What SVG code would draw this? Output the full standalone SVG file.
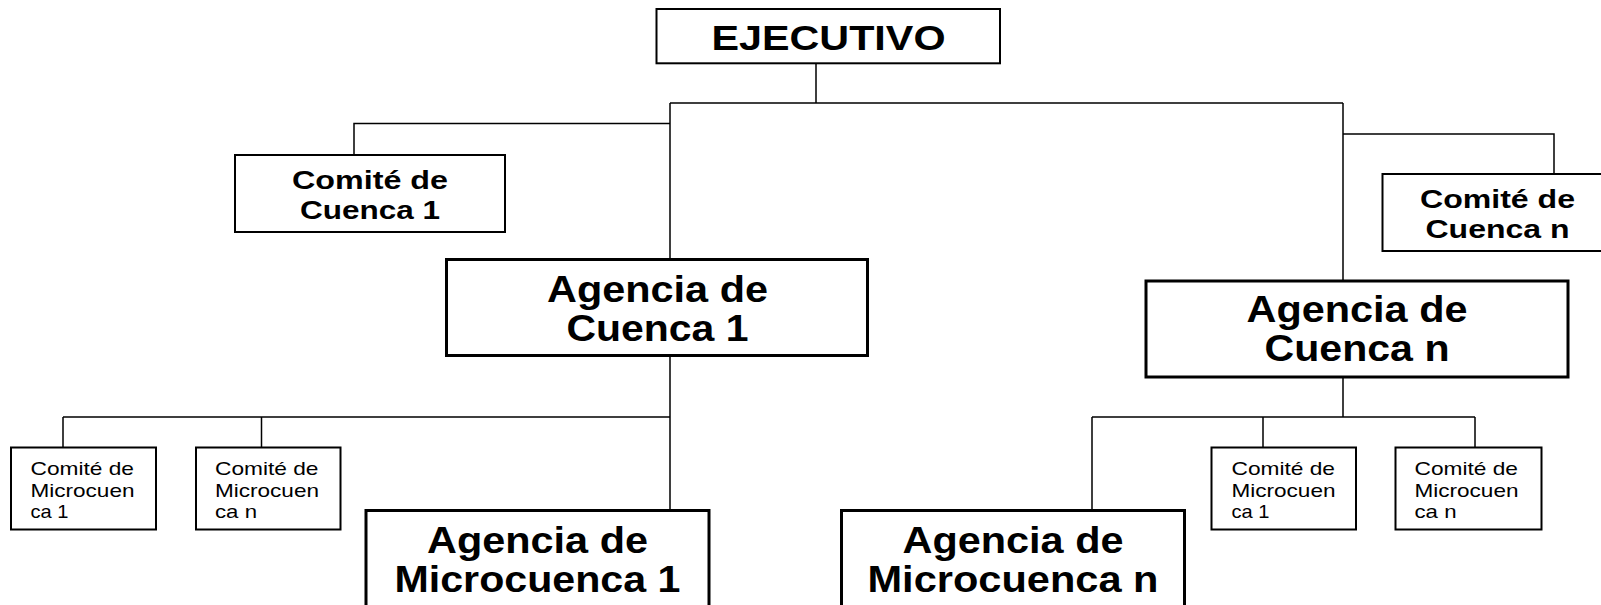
<svg xmlns="http://www.w3.org/2000/svg" width="1601" height="605" viewBox="0 0 1601 605">
<style>
.box{fill:#fff;stroke:#000;stroke-width:2}
.big{fill:#fff;stroke:#000;stroke-width:3}
.ln{fill:none;stroke:#000;stroke-width:1.5}
text{font-family:"Liberation Sans",Arial,sans-serif;fill:#000}
.b{font-weight:bold;text-anchor:middle}
.s{font-size:19px}
</style>
<rect width="1601" height="605" fill="#fff"/>
<g id="connectors">
<path class="ln" d="M816,63V103M670,103H1343M670,103V259M670,123.5H354V155M1343,103V281M1343,134H1554V174"/>
<path class="ln" d="M670,355V510.5M63,417H670M63,417V447M261.5,417V447"/>
<path class="ln" d="M1343,377V417M1092,417H1475M1092,417V510.5M1263,417V447M1475,417V447"/>
</g>
<g id="ejecutivo">
<rect class="box" x="656.5" y="9" width="343.5" height="54.3"/>
<text class="b" x="828.5" y="50" font-size="35" textLength="234" lengthAdjust="spacingAndGlyphs">EJECUTIVO</text>
</g>
<g id="comite-cuenca-1">
<rect class="box" x="235" y="155" width="270" height="77"/>
<text class="b" x="370" y="189" font-size="26" textLength="156" lengthAdjust="spacingAndGlyphs">Comité de</text>
<text class="b" x="370" y="219" font-size="26" textLength="140" lengthAdjust="spacingAndGlyphs">Cuenca 1</text>
</g>
<g id="comite-cuenca-n">
<rect class="box" x="1382.5" y="174" width="240" height="77"/>
<text class="b" x="1497.5" y="207.5" font-size="26" textLength="155" lengthAdjust="spacingAndGlyphs">Comité de</text>
<text class="b" x="1497.5" y="238" font-size="26" textLength="144" lengthAdjust="spacingAndGlyphs">Cuenca n</text>
</g>
<g id="agencia-cuenca-1">
<rect class="big" x="446.5" y="259.5" width="421" height="96"/>
<text class="b" x="657.5" y="302" font-size="37" textLength="221" lengthAdjust="spacingAndGlyphs">Agencia de</text>
<text class="b" x="657.5" y="340.5" font-size="37" textLength="182" lengthAdjust="spacingAndGlyphs">Cuenca 1</text>
</g>
<g id="agencia-cuenca-n">
<rect class="big" x="1146" y="281" width="422" height="96"/>
<text class="b" x="1357" y="322" font-size="37" textLength="221" lengthAdjust="spacingAndGlyphs">Agencia de</text>
<text class="b" x="1357" y="361" font-size="37" textLength="185" lengthAdjust="spacingAndGlyphs">Cuenca n</text>
</g>
<g id="comite-microcuenca-1-a">
<rect class="box" x="11" y="447.5" width="145" height="82"/>
<text class="s" x="30.5" y="475" textLength="103.5" lengthAdjust="spacingAndGlyphs">Comité de</text>
<text class="s" x="30.5" y="496.5" textLength="104" lengthAdjust="spacingAndGlyphs">Microcuen</text>
<text class="s" x="30.5" y="518" textLength="38" lengthAdjust="spacingAndGlyphs">ca 1</text>
</g>
<g id="comite-microcuenca-n-a">
<rect class="box" x="196" y="447.5" width="144.5" height="82"/>
<text class="s" x="215" y="475" textLength="103.5" lengthAdjust="spacingAndGlyphs">Comité de</text>
<text class="s" x="215" y="496.5" textLength="104" lengthAdjust="spacingAndGlyphs">Microcuen</text>
<text class="s" x="215" y="518" textLength="42" lengthAdjust="spacingAndGlyphs">ca n</text>
</g>
<g id="agencia-microcuenca-1">
<rect class="big" x="366" y="510.5" width="343" height="110"/>
<text class="b" x="537.5" y="553" font-size="37" textLength="221" lengthAdjust="spacingAndGlyphs">Agencia de</text>
<text class="b" x="537.5" y="592" font-size="37" textLength="286" lengthAdjust="spacingAndGlyphs">Microcuenca 1</text>
</g>
<g id="agencia-microcuenca-n">
<rect class="big" x="841.5" y="510.5" width="343" height="110"/>
<text class="b" x="1013" y="553" font-size="37" textLength="221" lengthAdjust="spacingAndGlyphs">Agencia de</text>
<text class="b" x="1013" y="592" font-size="37" textLength="291" lengthAdjust="spacingAndGlyphs">Microcuenca n</text>
</g>
<g id="comite-microcuenca-1-b">
<rect class="box" x="1211.5" y="447.5" width="144.5" height="82"/>
<text class="s" x="1231.5" y="475" textLength="103.5" lengthAdjust="spacingAndGlyphs">Comité de</text>
<text class="s" x="1231.5" y="496.5" textLength="104" lengthAdjust="spacingAndGlyphs">Microcuen</text>
<text class="s" x="1231.5" y="518" textLength="38" lengthAdjust="spacingAndGlyphs">ca 1</text>
</g>
<g id="comite-microcuenca-n-b">
<rect class="box" x="1395.5" y="447.5" width="146" height="82"/>
<text class="s" x="1414.5" y="475" textLength="103.5" lengthAdjust="spacingAndGlyphs">Comité de</text>
<text class="s" x="1414.5" y="496.5" textLength="104" lengthAdjust="spacingAndGlyphs">Microcuen</text>
<text class="s" x="1414.5" y="518" textLength="42" lengthAdjust="spacingAndGlyphs">ca n</text>
</g>
</svg>
